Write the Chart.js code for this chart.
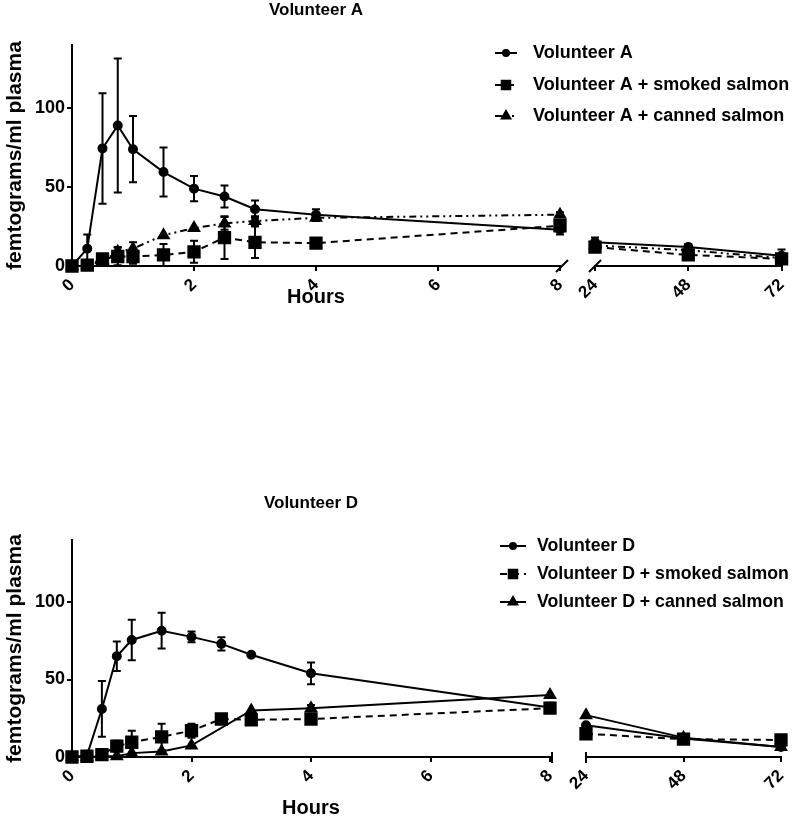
<!DOCTYPE html>
<html>
<head>
<meta charset="utf-8">
<script src="https://cdn.jsdelivr.net/npm/chart.js@4.4.0/dist/chart.umd.min.js"></script>
<style>
    body { margin: 0; background: #fff; width: 800px; height: 821px; position: relative; overflow: hidden; }
    canvas { position: absolute; }
</style>
</head>
<body>
<canvas id="aLeft" width="800" height="330" style="left:0;top:0"></canvas>
<canvas id="aRight" width="225" height="330" style="left:575px;top:0"></canvas>
<canvas id="dLeft" width="800" height="326" style="left:0;top:495px"></canvas>
<canvas id="dRight" width="240" height="326" style="left:560px;top:495px"></canvas>
<script>
// tiempos (horas) y ticks
const hoursEarly = [0, 0.25, 0.5, 0.75, 1, 1.5, 2, 2.5, 3, 4, 8];
const hoursLate = [24, 48, 72];
const xTicksEarly = [0, 2, 4, 6, 8];
const xTicksLate = [24, 48, 72];
const yTicks = [0, 50, 100];

// Volunteer A
const aPlain = [0, 11, 74.5, 89, 74, 59.5, 49, 44, 36, 32.5, 23];
const aPlainErr = [0, 9, 35, 42.5, 21, 15.5, 8, 7, 5.5, 3.5, 3];
const aPlainLate = [15, 12, 6.5];
const aPlainLateErr = [3, 2, 4];
const aSmoked = [0, 0.5, 4.5, 6, 6, 7, 9, 18, 15, 14.5, 25.5];
const aSmokedErr = [0, 0.5, 1, 5.5, 4.5, 7, 7, 13.5, 10, 1, 2];
const aSmokedLate = [12, 7, 4.5];
const aSmokedLateErr = [1.5, 1.5, 1];
const aCanned = [0, 0.5, 3, 9, 11, 19.5, 24, 27, 28.5, 30.5, 32.5];
const aCannedErr = [0, 0, 1, 3, 4, 0, 0, 4, 3, 2, 1.5];
const aCannedLate = [13, 10, 5];
const aCannedLateErr = [0, 0, 0];

// Volunteer D
const dPlain = [0, 1, 31, 65, 75.5, 81.5, 77.5, 73, 66, 54, 32];
const dPlainErr = [0, 1, 18, 9.5, 13, 11.5, 3.5, 4.3, 0, 7, 3];
const dPlainLate = [20.5, 12, 6.5];
const dPlainLateErr = [0, 0, 1];
const dSmoked = [0, 0.5, 1.5, 7, 9.5, 13, 17, 24.5, 24, 24.5, 31.5];
const dSmokedErr = [0, 0, 0.5, 3.5, 7.5, 8.5, 4.5, 0.5, 0, 1, 3];
const dSmokedLate = [15, 11.5, 11];
const dSmokedLateErr = [0, 0, 0];
const dCanned = [0, 0, 0.5, 0.5, 2.5, 3.5, 7.5, null, 30, 31.5, 40];
const dCannedErr = [0, 0, 0, 0, 0, 0, 0, 0, 0, 2, 0];
const dCannedLate = [27, 12.5, 6.5];
const dCannedLateErr = [0, 0, 0];

const FONT = "'Liberation Sans', Arial, sans-serif";
Chart.defaults.font.family = FONT;
Chart.defaults.font.weight = 'bold';
Chart.defaults.color = '#000';

function pts(xs, ys) {
    return xs.map((x, i) => ({ x: x, y: ys[i] }));
}

function serie(label, xs, ys, errs, style) {
    return {
        label: label,
        data: pts(xs, ys),
        errors: errs,
        borderColor: '#000',
        backgroundColor: '#000',
        borderWidth: 2,
        borderDash: style.dash,
        pointStyle: style.point,
        pointRadius: style.radius,
        pointBackgroundColor: '#000',
        pointBorderColor: '#000',
        legendRadius: style.legendRadius,
        tension: 0,
        spanGaps: true,
        clip: false
    };
}

const circulo = { point: 'circle', radius: 4, legendRadius: 3, dash: [] };
const cuadro = { point: 'rect', radius: 8, legendRadius: 6, dash: [7, 5] };
const trianguloA = { point: 'triangle', radius: 6, legendRadius: 5, dash: [7, 4, 2, 4, 2, 4] };
const trianguloD = { point: 'triangle', radius: 6, legendRadius: 5, dash: [] };

// barras de error
const errorBars = {
    id: 'errorBars',
    afterDatasetsDraw(chart) {
        const ctx = chart.ctx, y = chart.scales.y;
        chart.data.datasets.forEach((ds, i) => {
            if (!ds.errors) return;
            chart.getDatasetMeta(i).data.forEach((pt, j) => {
                const v = ds.data[j].y, e = ds.errors[j];
                if (v == null || !e) return;
                const top = y.getPixelForValue(v + e);
                const bot = y.getPixelForValue(Math.max(v - e, 0));
                ctx.save();
                ctx.strokeStyle = '#000';
                ctx.lineWidth = 2;
                ctx.beginPath();
                ctx.moveTo(pt.x, top); ctx.lineTo(pt.x, bot);
                ctx.moveTo(pt.x - 4, top); ctx.lineTo(pt.x + 4, top);
                ctx.moveTo(pt.x - 4, bot); ctx.lineTo(pt.x + 4, bot);
                ctx.stroke();
                ctx.restore();
            });
        });
    }
};

function axisBreak(side, style) {
    return {
        id: 'axisBreak',
        afterDraw(chart) {
            const ctx = chart.ctx, a = chart.chartArea;
            const x = side === 'right' ? a.right + 2 : a.left;
            const y = a.bottom;
            ctx.save();
            ctx.strokeStyle = '#000';
            ctx.lineWidth = 2;
            ctx.beginPath();
            if (style === 'slash') { ctx.moveTo(x - 6, y + 6); ctx.lineTo(x + 6, y - 6); }
            else { ctx.moveTo(x, y - 5); ctx.lineTo(x, y + 6); }
            ctx.stroke();
            ctx.restore();
        }
    };
}

function panelTitle(text, y) {
    return {
        id: 'panelTitle',
        afterDraw(chart) {
            const ctx = chart.ctx, a = chart.chartArea;
            ctx.save();
            ctx.font = 'bold 17px ' + FONT;
            ctx.fillStyle = '#000';
            ctx.textAlign = 'center';
            ctx.textBaseline = 'middle';
            ctx.fillText(text, (a.left + a.right) / 2, y);
            ctx.restore();
        }
    };
}

function sideLegend(x, len, textX, rows, size) {
    return {
        id: 'sideLegend',
        afterDraw(chart) {
            const ctx = chart.ctx;
            chart.data.datasets.forEach((ds, i) => {
                const y = rows[i];
                ctx.save();
                ctx.strokeStyle = '#000';
                ctx.fillStyle = '#000';
                ctx.lineWidth = 2;
                ctx.setLineDash(ds.borderDash || []);
                ctx.beginPath();
                ctx.moveTo(x, y); ctx.lineTo(x + len, y);
                ctx.stroke();
                ctx.setLineDash([]);
                Chart.helpers.drawPoint(ctx, { pointStyle: ds.pointStyle, radius: ds.legendRadius, borderWidth: 1, rotation: 0 }, x + len / 2, y);
                ctx.font = 'bold ' + size + 'px ' + FONT;
                ctx.textBaseline = 'middle';
                ctx.fillText(ds.label, textX, y);
                ctx.restore();
            });
        }
    };
}

function lineChart(id, cfg) {
    return new Chart(document.getElementById(id), {
        type: 'line',
        data: { datasets: cfg.datasets },
        options: {
            responsive: false,
            animation: false,
            layout: { padding: cfg.padding },
            plugins: { legend: { display: false }, tooltip: { enabled: false } },
            scales: {
                x: {
                    type: 'linear',
                    min: cfg.xTicks[0],
                    max: cfg.xTicks[cfg.xTicks.length - 1],
                    afterBuildTicks: s => { s.ticks = cfg.xTicks.map(v => ({ value: v })); },
                    afterFit: s => { s.height = cfg.xHeight; },
                    grid: { drawOnChartArea: false, color: '#000', lineWidth: 2, tickLength: 5 },
                    border: { color: '#000', width: 2 },
                    ticks: { minRotation: 45, maxRotation: 45, padding: 4, font: { size: 17, weight: 'bold' }, color: '#000' },
                    title: {
                        display: cfg.xTitlePad !== undefined,
                        text: 'Hours',
                        font: { size: 20, weight: 'bold' },
                        color: '#000',
                        padding: { top: 0, bottom: cfg.xTitlePad }
                    }
                },
                y: {
                    display: cfg.showY,
                    min: 0,
                    max: 140,
                    afterBuildTicks: s => { s.ticks = yTicks.map(v => ({ value: v })); },
                    afterFit: s => { s.width = cfg.showY ? 72 : 0; },
                    grid: { drawOnChartArea: false, drawTicks: true, tickLength: 5, color: '#000', lineWidth: 2 },
                    border: { color: '#000', width: 2 },
                    ticks: { padding: 2, font: { size: 18, weight: 'bold' }, color: '#000' },
                    title: {
                        display: true,
                        text: 'femtograms/ml plasma',
                        font: { size: 21, weight: 'bold' },
                        color: '#000',
                        padding: { top: 3, bottom: 0 }
                    }
                }
            }
        },
        plugins: cfg.plugins
    });
}

// Panel A
lineChart('aLeft', {
    datasets: [
        serie('Volunteer A', hoursEarly, aPlain, aPlainErr, circulo),
        serie('Volunteer A + smoked salmon', hoursEarly, aSmoked, aSmokedErr, cuadro),
        serie('Volunteer A + canned salmon', hoursEarly, aCanned, aCannedErr, trianguloA)
    ],
    xTicks: xTicksEarly,
    padding: { left: 0, right: 240, top: 45, bottom: 0 },
    xHeight: 64,
    xTitlePad: 21,
    showY: true,
    plugins: [errorBars, axisBreak('right', 'slash'), panelTitle('Volunteer A', 10), sideLegend(495, 22, 533, [53, 85, 116], 18)]
});
lineChart('aRight', {
    datasets: [
        serie('Volunteer A', hoursLate, aPlainLate, aPlainLateErr, circulo),
        serie('Volunteer A + smoked salmon', hoursLate, aSmokedLate, aSmokedLateErr, cuadro),
        serie('Volunteer A + canned salmon', hoursLate, aCannedLate, aCannedLateErr, trianguloA)
    ],
    xTicks: xTicksLate,
    padding: { left: 20, right: 5, top: 45, bottom: 0 },
    xHeight: 64,
    showY: false,
    plugins: [errorBars, axisBreak('left', 'slash')]
});

// Panel D
lineChart('dLeft', {
    datasets: [
        serie('Volunteer D', hoursEarly, dPlain, dPlainErr, circulo),
        serie('Volunteer D + smoked salmon', hoursEarly, dSmoked, dSmokedErr, cuadro),
        serie('Volunteer D + canned salmon', hoursEarly, dCanned, dCannedErr, trianguloD)
    ],
    xTicks: xTicksEarly,
    padding: { left: 0, right: 250, top: 45, bottom: 0 },
    xHeight: 64,
    xTitlePad: 1,
    showY: true,
    plugins: [errorBars, axisBreak('right', 'bar'), panelTitle('Volunteer D', 8), sideLegend(500, 26, 537, [51, 79, 107], 17.7)]
});
lineChart('dRight', {
    datasets: [
        serie('Volunteer D', hoursLate, dPlainLate, dPlainLateErr, circulo),
        serie('Volunteer D + smoked salmon', hoursLate, dSmokedLate, dSmokedLateErr, cuadro),
        serie('Volunteer D + canned salmon', hoursLate, dCannedLate, dCannedLateErr, trianguloD)
    ],
    xTicks: xTicksLate,
    padding: { left: 26, right: 19, top: 45, bottom: 0 },
    xHeight: 64,
    showY: false,
    plugins: [errorBars, axisBreak('left', 'bar')]
});
</script>
</body>
</html>
